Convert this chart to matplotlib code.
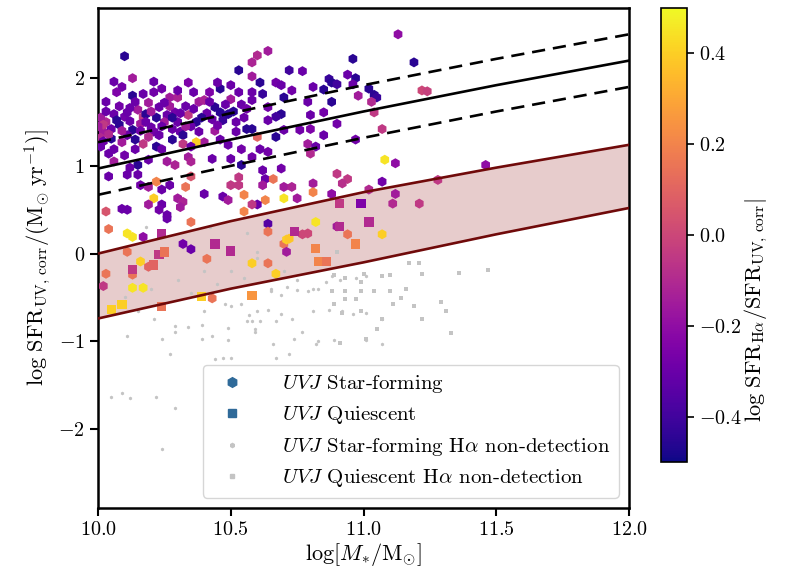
import numpy as np
import matplotlib
matplotlib.use("Agg")
import matplotlib.pyplot as plt
from matplotlib.lines import Line2D

plt.rcParams.update({
    "font.family": "serif",
    "font.serif": ["cmr10", "DejaVu Serif"],
    "mathtext.fontset": "cm",
    "axes.formatter.use_mathtext": True,
    "font.size": 14,
})

# ---- star-forming main sequence and its +/- scatter ----
ms_mass = [10.0, 10.5, 11.0, 11.5, 12.0]
ms_sfr = [0.97, 1.30, 1.62, 1.92, 2.20]
ms_upper = [1.27, 1.60, 1.92, 2.22, 2.50]
ms_lower = [0.67, 1.00, 1.32, 1.62, 1.90]

# ---- green-valley band ----
band_mass = [10.0, 10.5, 11.0, 11.5, 12.0]
band_upper = [0.00, 0.37, 0.70, 0.98, 1.24]
band_lower = [-0.74, -0.40, -0.10, 0.22, 0.52]

# ---- UVJ star-forming galaxies with H-alpha detections: (mass, SFR_UV, log ratio) ----
sf_mass = [
    10.10, 10.06, 10.09, 10.07, 10.13, 10.13, 10.21, 10.21, 10.27, 10.30,
    10.36, 10.42, 10.46, 10.53, 10.58, 10.60, 10.64, 10.58, 10.53, 10.50,
    10.58, 10.62, 10.67, 10.69, 10.61, 10.72, 10.77, 10.73, 10.70, 10.58,
    10.64, 10.69, 10.67, 10.64, 10.80, 10.85, 10.76, 10.80, 10.70, 10.58,
    10.60, 10.67, 10.61, 10.64, 10.96, 11.19, 10.94, 10.87, 10.88, 10.90,
    10.97, 10.96, 10.81, 10.85, 11.02, 11.04, 11.05, 10.98, 11.22, 11.24,
    10.79, 10.88, 11.03, 11.04, 10.90, 10.85, 10.97, 11.07, 10.79, 10.82,
    10.80, 11.08, 11.12, 11.46, 11.13, 10.90, 10.94, 10.92, 11.07, 10.81,
    10.81, 10.88, 11.02, 11.28, 11.12, 10.62, 10.69, 10.63, 10.66, 10.62,
    10.70, 10.73, 10.70, 10.63, 10.60, 10.75,
    10.03, 10.06, 10.02, 10.05, 10.10, 10.11, 10.15, 10.17, 10.18, 10.13,
    10.20, 10.21, 10.23, 10.26, 10.29, 10.25, 10.28, 10.31, 10.32, 10.34,
    10.37, 10.38, 10.38, 10.40, 10.44, 10.46, 10.43, 10.47, 10.52, 10.54,
    10.56, 10.49, 10.52, 10.56, 10.40, 10.37, 10.09, 10.17, 10.22, 10.24,
    10.32, 10.35, 10.49, 10.54, 10.01, 10.06, 10.14, 10.04, 10.10, 10.15,
    10.19, 10.26, 10.29, 10.34, 10.35, 10.43, 10.50, 10.54, 10.58, 10.04,
    10.11, 10.16, 10.19, 10.22, 10.27, 10.35, 10.15, 10.21, 10.19, 10.24,
    10.23, 10.26, 10.26, 10.30, 10.32, 10.31, 10.33, 10.35, 10.40, 10.47,
    10.49, 10.50, 10.53, 10.53, 10.55, 10.55, 10.58, 10.03, 10.04, 10.11,
    10.13, 10.09, 10.11, 10.17, 10.24, 10.64, 10.32, 10.35, 10.41, 10.11,
    10.16, 10.19, 10.03, 10.02, 10.13, 10.17, 10.43, 10.58, 10.64, 10.67,
    10.82, 10.64, 10.70, 10.71, 10.72, 10.71, 10.77, 10.79, 10.90, 10.94,
    11.07, 11.11, 11.21, 10.13,
    10.01, 10.02, 10.01, 10.03, 10.05, 10.08, 10.08, 10.12, 10.14, 10.16,
    10.19, 10.22, 10.24, 10.27, 10.30, 10.33, 10.35, 10.41, 10.44, 10.46,
    10.03, 10.11, 10.19, 10.28, 10.06, 10.12,
    10.00, 10.02, 10.04, 10.07, 10.09, 10.12, 10.14, 10.16, 10.18, 10.20,
    10.23, 10.25, 10.28, 10.31, 10.33, 10.36, 10.39, 10.42, 10.45, 10.48,
    10.51, 10.55, 10.30, 10.24, 10.17, 10.45, 10.34, 10.50,
]
sf_sfr = [
    2.25, 1.96, 1.90, 1.84, 2.00, 1.80, 1.96, 1.84, 1.78, 1.78,
    1.84, 1.84, 1.88, 2.09, 2.18, 2.26, 2.31, 2.02, 1.84, 1.76,
    1.84, 1.82, 1.95, 1.92, 1.95, 2.09, 2.08, 1.86, 1.78, 1.75,
    1.67, 1.59, 1.56, 1.52, 1.58, 1.61, 1.41, 1.42, 1.41, 1.42,
    1.33, 1.33, 1.19, 1.16, 2.22, 2.18, 2.04, 1.99, 1.95, 1.93,
    2.00, 1.93, 1.90, 1.87, 1.88, 1.81, 1.78, 1.80, 1.86, 1.85,
    1.73, 1.73, 1.73, 1.61, 1.48, 1.35, 1.30, 1.42, 1.25, 1.22,
    1.14, 1.07, 1.03, 1.01, 2.50, 0.91, 0.85, 0.80, 0.82, 0.80,
    0.70, 0.68, 0.73, 0.84, 0.68, 0.95, 0.97, 0.85, 0.85, 0.78,
    0.76, 0.76, 0.63, 0.61, 0.56, 0.63,
    1.50, 1.59, 1.39, 1.31, 1.56, 1.61, 1.64, 1.56, 1.59, 1.41,
    1.44, 1.39, 1.67, 1.58, 1.61, 1.50, 1.42, 1.39, 1.35, 1.58,
    1.50, 1.39, 1.73, 1.75, 1.67, 1.61, 1.53, 1.52, 1.50, 1.70,
    1.65, 1.59, 1.39, 1.42, 1.27, 1.27, 1.27, 1.25, 1.22, 1.19,
    1.25, 1.22, 1.24, 1.19, 1.22, 1.19, 1.19, 1.14, 1.12, 1.01,
    1.07, 1.05, 1.01, 1.10, 1.05, 1.08, 1.08, 1.01, 1.10, 0.88,
    0.90, 0.78, 0.76, 0.82, 0.78, 0.88, 0.90, 0.63, 0.56, 0.56,
    0.50, 0.44, 0.40, 0.63, 0.59, 0.53, 0.76, 0.36, 0.68, 0.65,
    0.61, 0.78, 0.78, 0.87, 0.67, 0.48, 0.56, 0.48, 0.28, 0.23,
    0.19, 0.51, 0.50, 0.19, 0.73, 0.34, 0.11, 0.05, -0.06, 0.02,
    -0.09, -0.15, -0.23, -0.37, -0.39, -0.39, -0.51, -0.11, -0.11, -0.23,
    0.36, 0.25, 0.11, 0.16, 0.17, 0.02, 0.22, 0.23, 0.31, 0.22,
    0.22, 0.57, 0.57, -0.24,
    1.55, 1.47, 1.32, 1.62, 1.42, 1.47, 1.68, 1.51, 1.73, 1.48,
    1.72, 1.55, 1.45, 1.68, 1.50, 1.68, 1.45, 1.60, 1.40, 1.30,
    1.73, 1.35, 1.33, 1.30, 1.05, 0.98,
    1.45, 1.28, 1.36, 1.52, 1.40, 1.66, 1.30, 1.40, 1.50, 1.62,
    1.35, 1.72, 1.55, 1.60, 1.45, 1.65, 1.55, 1.73, 1.46, 1.70,
    1.62, 1.55, 1.86, 1.88, 1.82, 1.95, 1.95, 1.92,
]
sf_ratio = [
    -0.45, -0.30, -0.28, -0.25, -0.15, -0.45, -0.30, -0.28, -0.15, -0.12,
    -0.30, -0.25, -0.45, -0.45, -0.12, -0.10, -0.15, -0.15, -0.30, -0.15,
    -0.30, -0.42, -0.28, -0.30, -0.45, -0.40, -0.30, -0.28, -0.45, -0.30,
    -0.28, -0.45, -0.40, -0.30, -0.30, -0.28, -0.28, -0.25, -0.30, -0.45,
    0.10, -0.45, -0.30, -0.28, -0.45, -0.45, -0.30, -0.42, -0.45, -0.40,
    -0.45, -0.30, -0.30, -0.45, -0.45, -0.45, -0.42, -0.15, 0.00, -0.02,
    -0.30, -0.45, -0.10, -0.05, -0.28, -0.30, -0.28, -0.05, -0.15, -0.30,
    -0.10, 0.45, -0.20, -0.20, -0.20, -0.05, -0.05, -0.08, -0.28, -0.15,
    0.20, -0.20, -0.10, -0.05, -0.15, -0.30, -0.28, -0.30, 0.15, -0.15,
    -0.15, -0.12, 0.45, 0.20, -0.30, -0.15,
    -0.10, -0.30, -0.15, -0.45, -0.28, -0.30, -0.15, -0.05, -0.45, -0.45,
    -0.30, -0.28, -0.30, -0.30, -0.28, -0.15, -0.30, -0.30, -0.45, -0.05,
    -0.45, -0.30, -0.15, -0.12, -0.45, -0.45, -0.30, -0.42, -0.30, -0.30,
    -0.28, -0.45, -0.30, -0.45, -0.15, 0.40, -0.15, -0.05, -0.45, -0.30,
    -0.05, -0.30, -0.30, -0.28, -0.30, -0.30, -0.30, -0.30, -0.28, -0.45,
    -0.30, -0.15, -0.12, -0.15, -0.12, -0.30, -0.30, -0.45, -0.28, -0.30,
    -0.30, -0.28, -0.15, 0.20, -0.30, 0.05, -0.30, 0.40, -0.15, -0.30,
    -0.28, -0.30, -0.30, -0.15, -0.12, -0.15, 0.15, 0.15, -0.30, -0.30,
    -0.15, -0.05, -0.05, -0.05, 0.20, 0.20, -0.05, 0.05, 0.15, 0.45,
    0.45, -0.30, -0.30, -0.20, -0.30, -0.35, -0.28, -0.30, 0.15, 0.15,
    0.40, 0.10, 0.15, -0.05, 0.45, 0.45, 0.15, 0.40, 0.15, 0.40,
    0.45, 0.15, 0.15, 0.40, 0.38, -0.15, 0.00, 0.00, -0.15, 0.15,
    0.40, -0.10, -0.05, 0.15,
    -0.15, -0.05, -0.10, -0.30, -0.30, -0.45, -0.28, -0.30, -0.30, -0.15,
    -0.15, -0.45, -0.30, -0.15, -0.30, -0.30, -0.30, -0.30, -0.15, -0.30,
    -0.30, -0.30, -0.10, -0.45, -0.15, -0.30,
    -0.15, -0.30, -0.10, -0.45, -0.15, -0.30, -0.45, -0.28, -0.30, -0.15,
    -0.30, -0.30, -0.45, -0.30, -0.15, -0.30, -0.45, -0.30, -0.28, -0.30,
    -0.45, -0.30, -0.30, -0.28, -0.30, -0.30, -0.25, -0.30,
]

# ---- UVJ quiescent galaxies with H-alpha detections ----
q_mass = [10.24, 10.44, 10.50, 10.23, 10.25, 10.13, 10.21, 10.05, 10.09, 10.24,
          10.39, 10.58, 10.83, 10.86, 10.82, 10.74, 10.91, 10.97, 11.02, 10.99,
          10.91]
q_sfr = [0.23, 0.11, 0.03, -0.01, 0.02, -0.18, -0.13, -0.64, -0.58, -0.60,
         -0.49, -0.48, -0.09, -0.09, 0.06, 0.25, 0.31, 0.11, 0.36, 0.57,
         0.57]
q_ratio = [-0.10, -0.10, -0.10, -0.05, 0.15, -0.05, 0.10, 0.40, 0.40, 0.15,
           0.40, 0.25, 0.20, 0.15, 0.20, -0.10, -0.10, 0.20, -0.10, -0.25,
           -0.05]

# ---- H-alpha non-detections ----
sf_nd_mass = [
    10.11, 10.24, 10.29, 10.39, 10.43, 10.49, 10.59, 10.58, 10.61, 10.67,
    10.73, 10.77, 10.74, 10.83, 10.89, 11.01, 11.07, 11.07, 10.27, 10.44,
    10.47, 10.50, 10.67, 10.05, 10.09, 10.12, 10.22, 10.29, 10.24, 10.60,
    10.64, 10.69, 10.50, 10.48, 10.54, 10.65, 10.69, 10.71, 10.75, 10.79,
    10.81, 10.83, 10.86, 10.88, 10.91, 10.97, 11.01, 10.81, 10.87, 10.92,
    10.96, 11.01, 10.59, 10.56, 10.49, 10.39, 10.34, 10.29, 10.21, 10.15,
    10.40, 10.57, 10.66, 10.82, 10.72,
    10.40, 10.50, 10.55, 10.45, 10.30, 10.60, 10.70, 10.75, 10.35, 10.20,
    10.65, 10.10, 10.56, 10.42, 10.18, 10.60,
]
sf_nd_sfr = [
    -0.94, -0.97, -0.89, -0.97, -0.94, -0.98, -0.89, -0.77, -0.77, -0.77,
    -0.75, -0.89, -0.97, -1.00, -0.98, -0.99, -0.75, -1.03, -1.15, -1.20,
    -1.19, -1.19, -1.19, -1.64, -1.59, -1.65, -1.64, -1.76, -2.23, -0.66,
    -0.64, -0.69, -0.60, -0.58, -0.57, -0.43, -0.47, -0.38, -0.41, -0.43,
    -0.40, -0.40, -0.32, -0.26, -0.30, -0.28, -0.26, -0.66, -0.64, -0.66,
    -0.69, -0.68, -0.86, -0.77, -0.85, -0.81, -0.84, -0.83, -0.74, -0.66,
    -0.66, -0.70, -1.03, -1.03, -1.15,
    -0.20, -0.20, -0.28, -0.35, -0.30, -0.05, -0.20, -0.30, -0.45, -0.40,
    -0.40, -0.50, 0.23, 0.30, 0.30, 0.02,
]
q_nd_mass = [
    10.90, 10.89, 10.93, 10.99, 11.00, 11.07, 11.10, 11.17, 11.21, 11.22,
    11.16, 11.36, 11.47, 10.88, 10.93, 10.99, 11.04, 11.10, 10.89, 10.93,
    10.97, 11.11, 11.14, 11.19, 11.29, 11.31, 10.92, 10.99, 11.07, 11.22,
    11.33, 11.05, 11.01, 10.91,
]
q_nd_sfr = [
    0.02, -0.24, -0.28, -0.32, -0.23, -0.26, -0.24, -0.11, -0.11, -0.23,
    -0.40, -0.22, -0.19, -0.43, -0.43, -0.43, -0.43, -0.43, -0.58, -0.52,
    -0.52, -0.57, -0.51, -0.60, -0.55, -0.66, -0.68, -0.66, -0.75, -0.74,
    -0.91, -0.86, -0.97, -1.02,
]

fig = plt.figure(figsize=(7.86, 5.70), dpi=100)
ax = fig.add_axes([0.1247, 0.1088, 0.6756, 0.8772])
cax = fig.add_axes([0.841, 0.1895, 0.033, 0.7965])

cmap = plt.get_cmap("plasma")
norm = matplotlib.colors.Normalize(vmin=-0.5, vmax=0.5)

# green-valley band
ax.fill_between(band_mass, band_lower, band_upper, color="darkred", alpha=0.2,
                linewidth=0, zorder=1)
ax.plot(band_mass, band_upper, color="#700a0a", lw=1.9, zorder=5)
ax.plot(band_mass, band_lower, color="#700a0a", lw=1.9, zorder=5)

# non-detections
nd_color = "#c4c4c4"
ax.scatter(sf_nd_mass, sf_nd_sfr, s=7, marker="h", color=nd_color,
           linewidths=0, zorder=2)
ax.scatter(q_nd_mass, q_nd_sfr, s=7, marker="s", color=nd_color,
           linewidths=0, zorder=2)

# detections coloured by SFR ratio
sc = ax.scatter(sf_mass, sf_sfr, c=sf_ratio, cmap=cmap, norm=norm, s=52,
                marker="h", linewidths=0, zorder=3)
ax.scatter(q_mass, q_sfr, c=q_ratio, cmap=cmap, norm=norm, s=46,
           marker="s", linewidths=0, zorder=3)

# main sequence
ax.plot(ms_mass, ms_sfr, color="black", lw=1.9, zorder=6)
ax.plot(ms_mass, ms_upper, color="black", lw=1.9, ls=(0, (5, 3)), zorder=6)
ax.plot(ms_mass, ms_lower, color="black", lw=1.9, ls=(0, (5, 3)), zorder=6)

ax.set_xlim(10.0, 12.0)
ax.set_ylim(-2.9, 2.8)
ax.set_xticks([10.0, 10.5, 11.0, 11.5, 12.0])
ax.set_yticks([-2, -1, 0, 1, 2])
for sp in ax.spines.values():
    sp.set_linewidth(1.8)
ax.tick_params(direction="out", length=6, width=1.5, labelsize=14.5)

ax.set_xlabel(r"$\log[M_{*}/\mathrm{M_{\odot}}]$", fontsize=16, labelpad=1)
ax.set_ylabel(r"$\log\,\mathrm{SFR_{UV,\,corr}}/(\mathrm{M_{\odot}\;yr^{-1}})]$",
              fontsize=16, labelpad=4)

legend_handles = [
    Line2D([], [], marker="h", ls="none", color="#2f6a99", markersize=7),
    Line2D([], [], marker="s", ls="none", color="#2f6a99", markersize=6),
    Line2D([], [], marker="h", ls="none", color=nd_color, markersize=3),
    Line2D([], [], marker="s", ls="none", color=nd_color, markersize=3),
]
legend_labels = [
    r"$UVJ$ Star-forming",
    r"$UVJ$ Quiescent",
    r"$UVJ$ Star-forming H$\alpha$ non-detection",
    r"$UVJ$ Quiescent H$\alpha$ non-detection",
]
ax.legend(legend_handles, legend_labels, loc="lower right", fontsize=15,
          framealpha=0.8, borderaxespad=0.5, handletextpad=1.4,
          labelspacing=0.45)

cb = fig.colorbar(sc, cax=cax)
cb.set_ticks([-0.4, -0.2, 0.0, 0.2, 0.4])
cb.ax.tick_params(labelsize=14.5, length=5, width=1.2)
cb.outline.set_linewidth(1.2)
cb.set_label(r"$\log\,\mathrm{SFR_{H\alpha}/SFR_{UV,\,corr}}|$", fontsize=16)
cb.ax.yaxis.set_label_coords(3.15, 0.335)

fig.savefig("out.png", dpi=100)
